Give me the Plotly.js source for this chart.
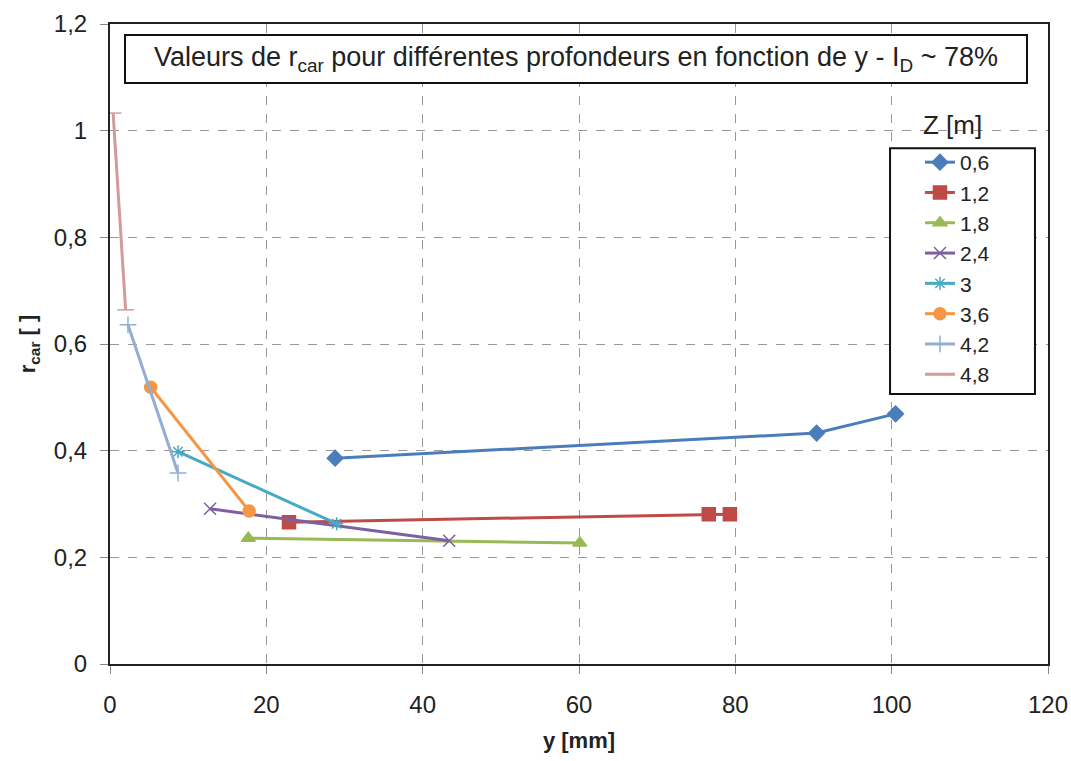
<!DOCTYPE html>
<html>
<head>
<meta charset="utf-8">
<script src="https://cdn.plot.ly/plotly-3.0.1.min.js"></script>
<style>html,body{margin:0;padding:0;background:#fff;}#chart{width:1071px;height:761px;}</style>
</head>
<body>
<div id="chart"></div>
<script>
// Data
const seriesNames = ["0,6", "1,2", "1,8", "2,4", "3", "3,6", "4,2", "4,8"];
const x06 = [28.8, 90.4, 100.5];
const y06 = [0.386, 0.433, 0.469];
const x12 = [22.9, 76.6, 79.3];
const y12 = [0.266, 0.281, 0.281];
const x18 = [17.7, 60.1];
const y18 = [0.236, 0.227];
const x24 = [12.8, 43.4];
const y24 = [0.291, 0.231];
const x30 = [8.7, 29.0];
const y30 = [0.398, 0.263];
const x36 = [5.2, 17.8];
const y36 = [0.519, 0.287];
const x42 = [2.3, 8.7];
const y42 = [0.636, 0.358];
const x48 = [0.4, 2.0];
const y48 = [1.033, 0.664];
const xTicks = [0, 20, 40, 60, 80, 100, 120];
const yTicks = [0, 0.2, 0.4, 0.6, 0.8, 1, 1.2];

const xs = [x06, x12, x18, x24, x30, x36, x42, x48];
const ys = [y06, y12, y18, y24, y30, y36, y42, y48];
const colors = ["#4A7EBB", "#BE4B48", "#98B954", "#7D60A0", "#46AAC5", "#F59646", "#93AED0", "#D39A9C"];
const symbols = ["diamond", "square", "triangle-up", "x-thin-open", "asterisk-open", "circle", "cross-thin-open", "line-ew-open"];
const sizes = [12, 13, 12, 12, 11, 12, 12, 12];

const traces = seriesNames.map((n, i) => ({
  type: "scatter",
  mode: "lines+markers",
  name: n,
  x: xs[i],
  y: ys[i],
  line: {color: colors[i], width: 3},
  marker: {symbol: symbols[i], size: sizes[i], color: colors[i], line: {color: colors[i], width: 1.5}}
}));

const layout = {
  width: 1071,
  height: 761,
  margin: {l: 110, r: 23, t: 24, b: 97},
  paper_bgcolor: "#fff",
  plot_bgcolor: "#fff",
  separators: ", ",
  font: {family: "Liberation Sans, Arial, sans-serif", color: "#222", size: 24},
  showlegend: true,
  xaxis: {
    range: [0, 120],
    tickvals: xTicks,
    ticks: "outside", ticklen: 8, tickcolor: "#888",
    ticklabelstandoff: 10,
    showgrid: true, gridcolor: "#999", griddash: "dash", gridwidth: 1,
    showline: true, linecolor: "#222", linewidth: 2, mirror: true,
    zeroline: false,
    tickfont: {size: 24},
    title: {text: "<b>y [mm]</b>", font: {size: 22}, standoff: 16}
  },
  yaxis: {
    range: [0, 1.2],
    tickvals: yTicks,
    ticks: "outside", ticklen: 8, tickcolor: "#888",
    ticklabelstandoff: 8,
    showgrid: true, gridcolor: "#999", griddash: "dash", gridwidth: 1,
    showline: true, linecolor: "#222", linewidth: 2, mirror: true,
    zeroline: false,
    tickfont: {size: 24},
    title: {text: "<b>r<sub>car</sub> [ ]</b>", font: {size: 22}, standoff: 12}
  },
  legend: {
    x: 0.8635, y: 0.8156, xanchor: "left", yanchor: "top",
    bgcolor: "rgba(0,0,0,0)", borderwidth: 0,
    font: {size: 21, color: "#222"},
    itemwidth: 30,
    tracegroupgap: 0
  },
  shapes: [
    {
      type: "rect", xref: "paper", yref: "paper",
      x0: 0.8316, x1: 0.9861, y0: 0.4219, y1: 0.806,
      fillcolor: "#fff", line: {color: "#111", width: 2}, layer: "above"
    }
  ],
  annotations: [
    {
      xref: "paper", yref: "paper", x: 0.497, y: 0.945, xanchor: "center", yanchor: "middle",
      text: "Valeurs de r<sub>car</sub> pour différentes profondeurs en fonction de y - I<sub>D</sub> ~ 78%",
      showarrow: false, font: {size: 27, color: "#222"},
      bgcolor: "#fff", bordercolor: "#111", borderwidth: 2, borderpad: 4,
      width: 892, height: 38
    },
    {
      xref: "paper", yref: "paper", x: 0.8987, y: 0.842, xanchor: "center", yanchor: "middle",
      text: "Z [m]", showarrow: false, font: {size: 26, color: "#222"}
    }
  ]
};

Plotly.newPlot("chart", traces, layout, {displayModeBar: false, staticPlot: true});
</script>
</body>
</html>
